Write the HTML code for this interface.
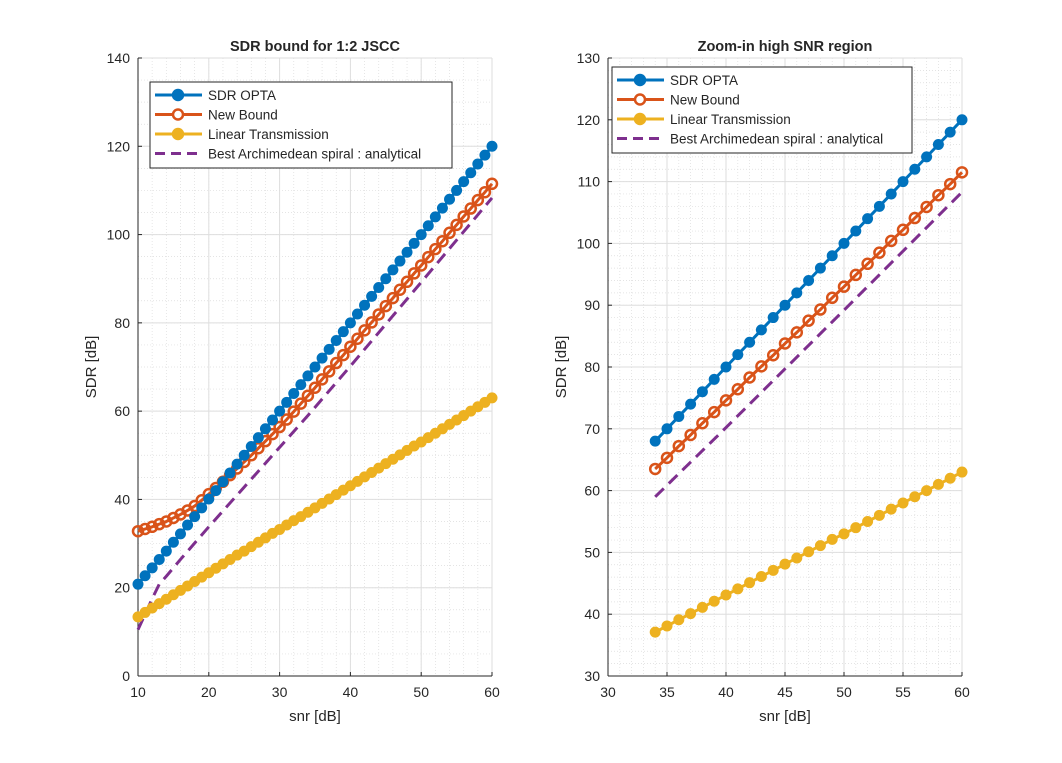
<!DOCTYPE html>
<html><head><meta charset="utf-8"><style>
body{margin:0;background:#fff}
svg text{font-family:"Liberation Sans",Arial,sans-serif;fill:#262626}
</style></head><body>
<svg id="c" width="1062" height="758" xmlns="http://www.w3.org/2000/svg"></svg>
<script>
const snrAll=[10,11,12,13,14,15,16,17,18,19,20,21,22,23,24,25,26,27,28,29,30,31,32,33,34,35,36,37,38,39,40,41,42,43,44,45,46,47,48,49,50,51,52,53,54,55,56,57,58,59,60];
const optaVals=[20.8,22.7,24.5,26.4,28.3,30.3,32.2,34.2,36.1,38.1,40.1,42,44,46,48,50,52,54,56,58,60,62,64,66,68,70,72,74,76,78,80,82,84,86,88,90,92,94,96,98,100,102,104,106,108,110,112,114,116,118,120];
const newVals=[32.8,33.3,33.8,34.4,35.0,35.8,36.6,37.5,38.5,39.8,41.2,42.6,44.0,45.5,47.0,48.5,50.0,51.6,53.2,54.8,56.4,58.1,59.9,61.7,63.5,65.3,67.2,69.0,70.9,72.7,74.6,76.4,78.3,80.1,81.9,83.8,85.6,87.5,89.3,91.2,93.0,94.9,96.7,98.5,100.4,102.2,104.1,105.9,107.8,109.6,111.5];
const linVals=[13.4,14.4,15.4,16.4,17.4,18.4,19.4,20.4,21.4,22.4,23.4,24.4,25.4,26.4,27.4,28.3,29.3,30.3,31.3,32.3,33.2,34.2,35.2,36.1,37.1,38.1,39.1,40.1,41.1,42.1,43.1,44.1,45.1,46.1,47.1,48.1,49.1,50.1,51.1,52.1,53.0,54.0,55.0,56.0,57.0,58.0,59.0,60.0,61.0,62.0,63.0];
const spSnr=[10,11,12,13,14,15,16,18,20,22,25,30,34,40,50,60];
const spVals=[10.5,14,17.5,20.8,22.6,24.5,26.4,30.1,33.8,37.4,42.8,51.8,59,70.2,89.2,108.3];
const legendLabels=["SDR OPTA","New Bound","Linear Transmission","Best Archimedean spiral : analytical"];
const colors=["#0072BD","#D95319","#EDB120","#7E2F8E"];
const svg=document.getElementById('c');
const NS="http://www.w3.org/2000/svg";
function mk(tag,attrs,parent){const e=document.createElementNS(NS,tag);for(const k in attrs)e.setAttribute(k,attrs[k]);(parent||svg).appendChild(e);return e;}
function panel(p){
  const g=mk('g',{});
  
  
  const X=v=>p.x0+(v-p.xmin)/(p.xmax-p.xmin)*(p.x1-p.x0);
  const Y=v=>p.y1-(v-p.ymin)/(p.ymax-p.ymin)*(p.y1-p.y0);
  mk('rect',{x:p.x0,y:p.y0,width:p.x1-p.x0,height:p.y1-p.y0,fill:'#fff'},g);
  for(let v=p.xmin;v<=p.xmax+1e-9;v+=p.xminor)mk('line',{x1:X(v),x2:X(v),y1:p.y0,y2:p.y1,stroke:'#dcdcdc','stroke-width':0.7,'stroke-dasharray':'1,2'},g);
  for(let v=p.ymin;v<=p.ymax+1e-9;v+=p.yminor)mk('line',{y1:Y(v),y2:Y(v),x1:p.x0,x2:p.x1,stroke:'#dcdcdc','stroke-width':0.7,'stroke-dasharray':'1,2'},g);
  for(let v=p.xmin;v<=p.xmax+1e-9;v+=p.xmajor){mk('line',{x1:X(v),x2:X(v),y1:p.y0,y2:p.y1,stroke:'#dedede','stroke-width':1},g);
    const t=mk('text',{x:X(v),y:p.y1+21,'text-anchor':'middle','font-size':14},g);t.textContent=v;
    mk('line',{x1:X(v),x2:X(v),y1:p.y1,y2:p.y1-4,stroke:'#262626'},g);}
  for(let v=p.ymin;v<=p.ymax+1e-9;v+=p.ymajor){mk('line',{y1:Y(v),y2:Y(v),x1:p.x0,x2:p.x1,stroke:'#dedede','stroke-width':1},g);
    const t=mk('text',{x:p.x0-8,y:Y(v)+5,'text-anchor':'end','font-size':14},g);t.textContent=v;
    mk('line',{y1:Y(v),y2:Y(v),x1:p.x0,x2:p.x0+4,stroke:'#262626'},g);}
  mk('line',{x1:p.x0,x2:p.x1,y1:p.y1,y2:p.y1,stroke:'#262626'},g);
  mk('line',{x1:p.x0,x2:p.x0,y1:p.y0,y2:p.y1,stroke:'#262626'},g);
  const f=(i)=>p.snr.map((s,k)=>[s,p.series[i][k]]).filter(d=>d[0]>=p.from);
  const pts=arr=>arr.map(d=>X(d[0])+','+Y(d[1])).join(' ');
  const sp=spSnr.map((s,k)=>[s,spVals[k]]).filter(d=>d[0]>=p.from);
  const sl=mk('polyline',{points:pts(sp),fill:'none',stroke:colors[3],'stroke-width':3,'stroke-dasharray':'12,7'},g);
  
  [2,1,0].forEach(i=>{
    const d=f(i);
    const l=mk('polyline',{points:pts(d),fill:'none',stroke:colors[i],'stroke-width':3},g);
    
    d.forEach(q=>{const c=mk('circle',{cx:X(q[0]),cy:Y(q[1]),r:5,fill:i==1?'none':colors[i],stroke:colors[i],'stroke-width':i==1?2.5:1},g);
      });
  });
  const tt=mk('text',{x:(p.x0+p.x1)/2,y:p.y0-7,'text-anchor':'middle','font-size':14.5,'font-weight':'bold',fill:'#000'},g);tt.textContent=p.title;
  const xt=mk('text',{x:(p.x0+p.x1)/2,y:p.y1+45,'text-anchor':'middle','font-size':15},g);xt.textContent='snr [dB]';
  const yt=mk('text',{x:0,y:0,'text-anchor':'middle','font-size':15,transform:`translate(${p.x0-42},${(p.y0+p.y1)/2}) rotate(-90)`},g);yt.textContent='SDR [dB]';
  const lg=mk('g',{},g);
  mk('rect',{x:p.lx,y:p.ly,width:p.lw,height:86,fill:'#fff',stroke:'#262626'},lg);
  legendLabels.forEach((s,i)=>{const yy=p.ly+13+i*19.5;
    mk('line',{x1:p.lx+5,x2:p.lx+52,y1:yy,y2:yy,stroke:colors[i],'stroke-width':3,'stroke-dasharray':i==3?'10,6':''},lg);
    if(i<3)mk('circle',{cx:p.lx+28,cy:yy,r:5,fill:i==1?'#fff':colors[i],stroke:colors[i],'stroke-width':2.5},lg);
    const t=mk('text',{x:p.lx+58,y:yy+5,'font-size':13.5,fill:'#000'},lg);t.textContent=s;});
}
panel({name:'left-panel',x0:138,x1:492,y0:58,y1:676,xmin:10,xmax:60,ymin:0,ymax:140,xmajor:10,xminor:2,ymajor:20,yminor:5,snr:snrAll,series:[optaVals,newVals,linVals],from:10,title:'SDR bound for 1:2 JSCC',lx:150,ly:82,lw:302});
panel({name:'right-panel',x0:608,x1:962,y0:58,y1:676,xmin:30,xmax:60,ymin:30,ymax:130,xmajor:5,xminor:1,ymajor:10,yminor:2,snr:snrAll,series:[optaVals,newVals,linVals],from:34,title:'Zoom-in high SNR region',lx:612,ly:67,lw:300});
</script>
</body></html>
